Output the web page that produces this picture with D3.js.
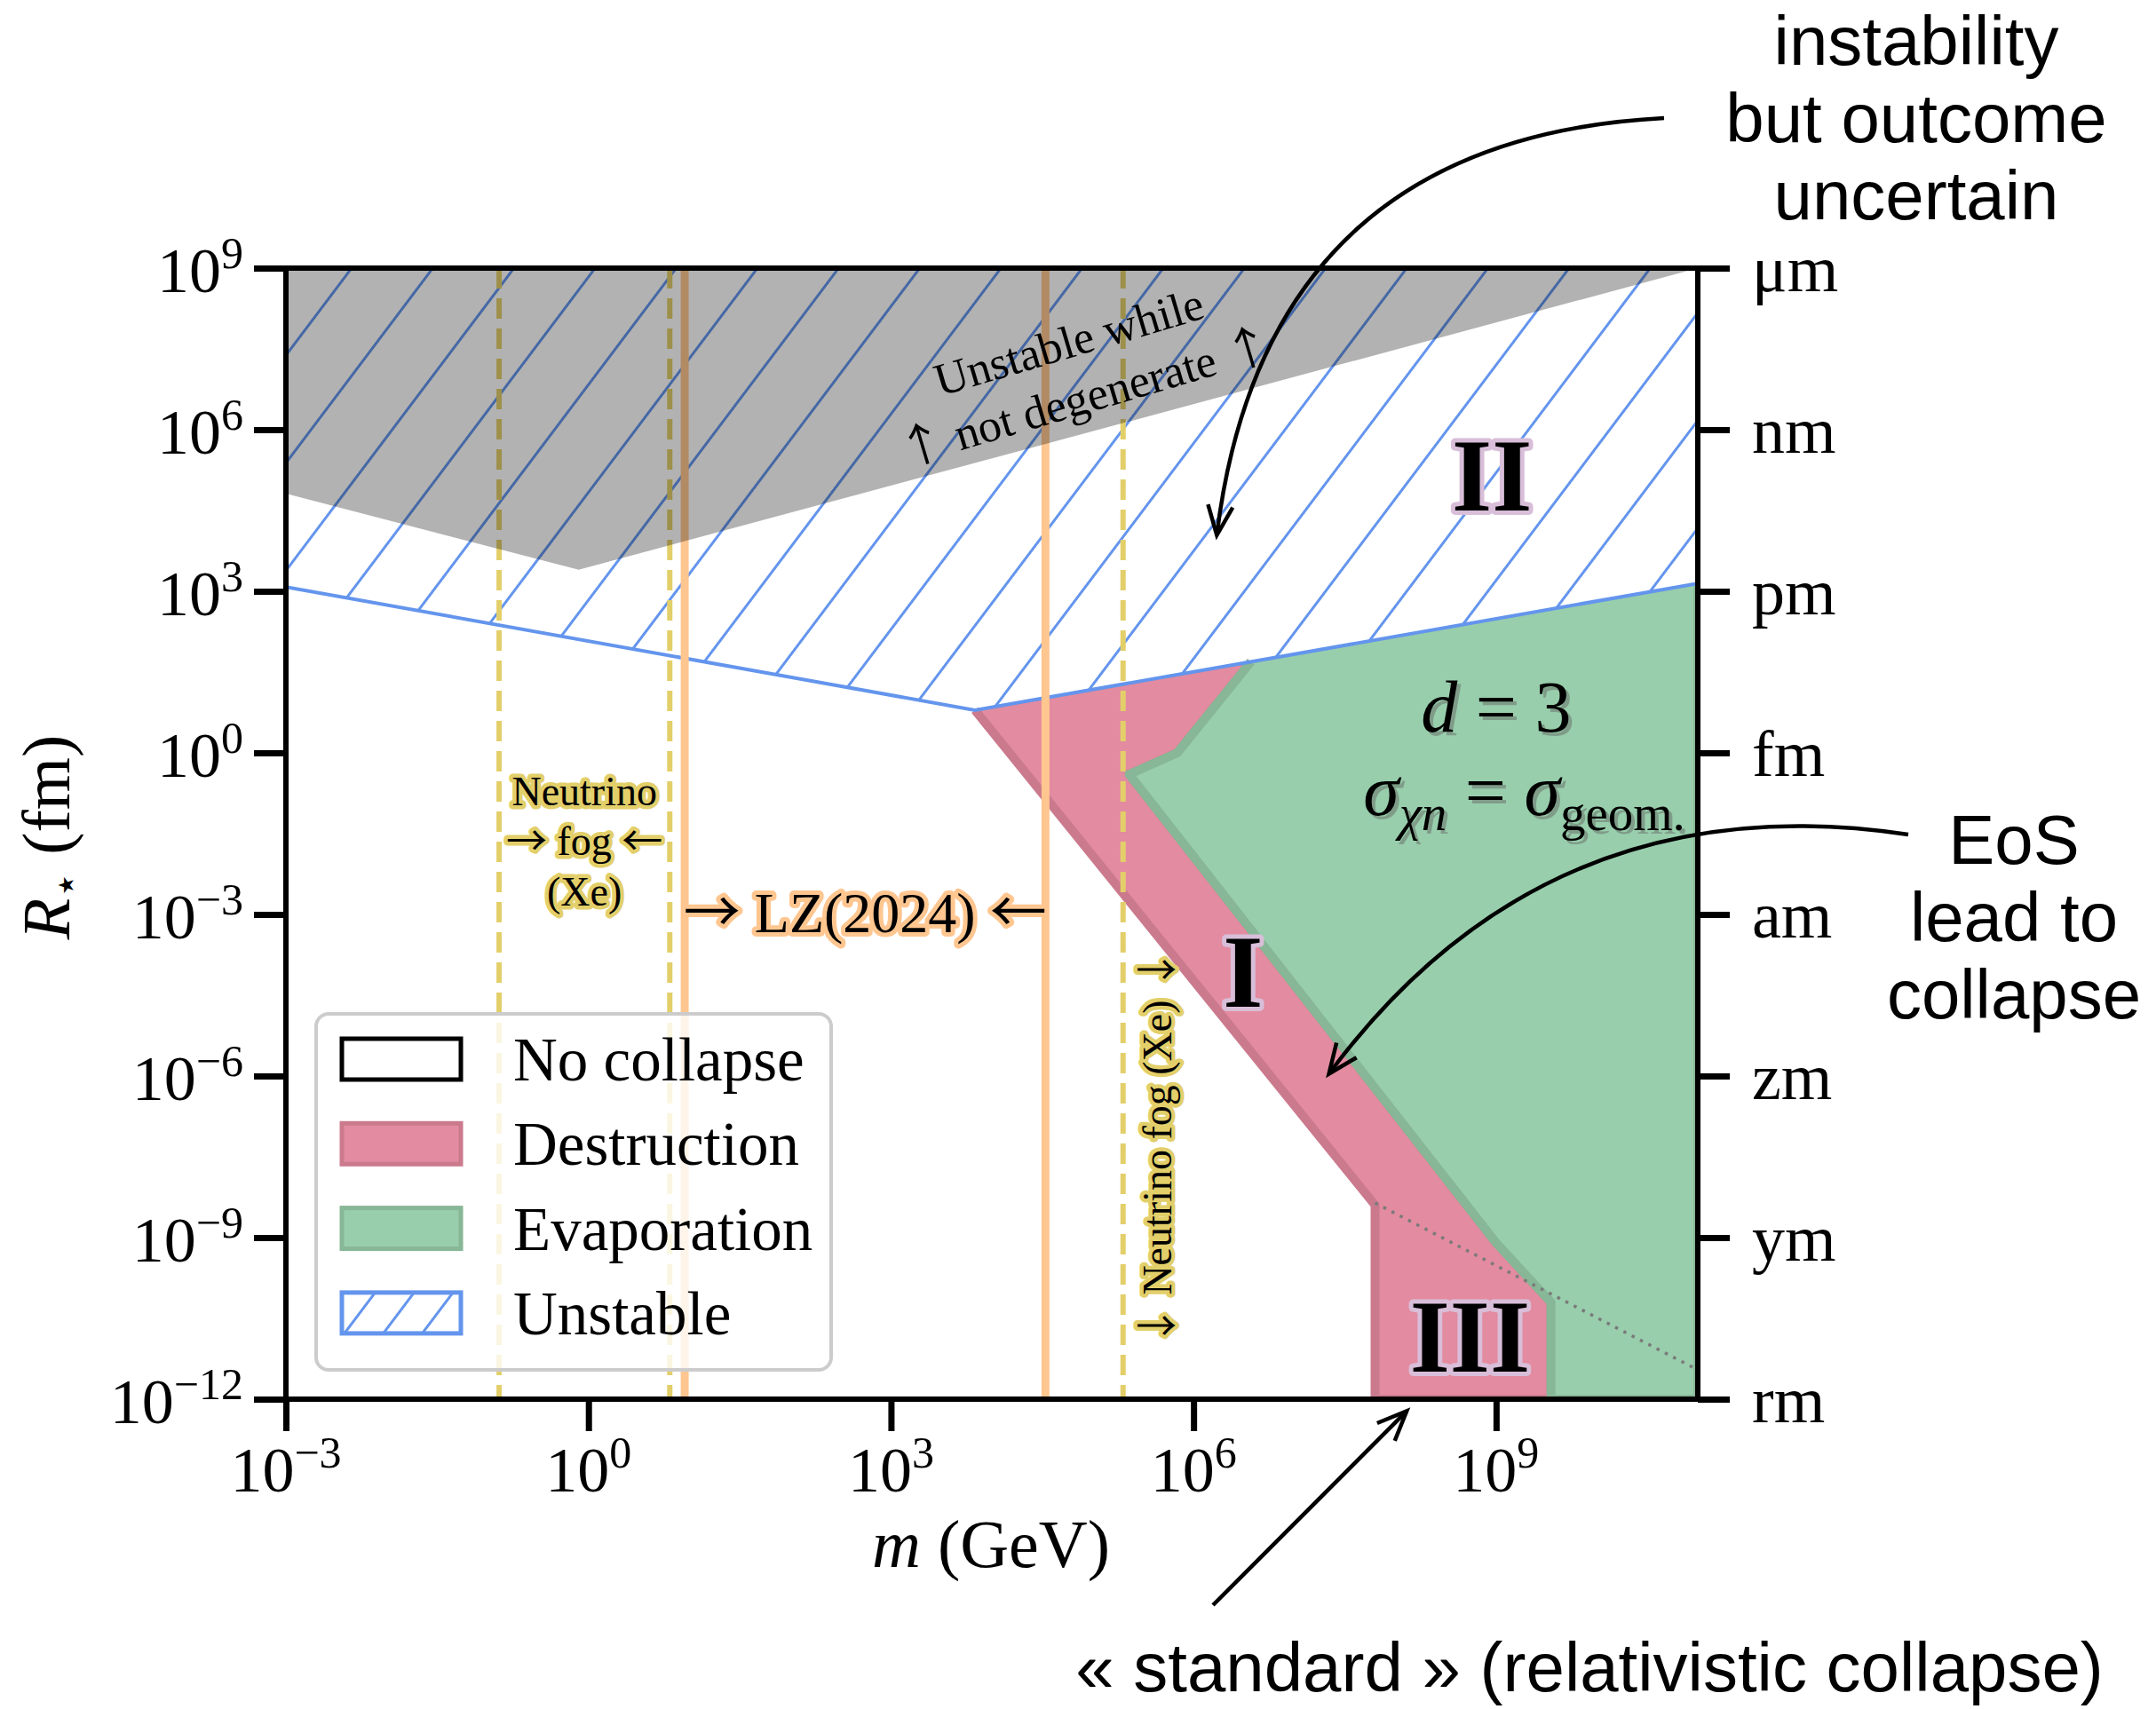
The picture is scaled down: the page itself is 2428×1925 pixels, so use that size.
<!DOCTYPE html>
<html>
<head>
<meta charset="utf-8">
<script src="https://cdn.jsdelivr.net/npm/d3@7"></script>
<style>
  body { margin: 0; background: #fff; }
  text { white-space: pre; }
  text.serif { font-family: "Liberation Serif", "DejaVu Serif", serif; }
  text.sans { font-family: "Liberation Sans", Arial, sans-serif; }
  tspan.arrow { font-family: "Noto Sans CJK JP", "DejaVu Sans", sans-serif; }
</style>
</head>
<body>
<div id="chart"></div>
<script>

// ---- data (m in GeV, R in fm) ----
var xTicks = [1e-3, 1e0, 1e3, 1e6, 1e9];
var xTickExp = ['\u22123', '0', '3', '6', '9'];
var yTicks = [1e9, 1e6, 1e3, 1e0, 1e-3, 1e-6, 1e-9, 1e-12];
var yTickExp = ['9', '6', '3', '0', '\u22123', '\u22126', '\u22129', '\u221212'];
var yUnits = ['\u03bcm', 'nm', 'pm', 'fm', 'am', 'zm', 'ym', 'rm'];

var unstableEdge = [[1e-3, 1.2e3], [6.8e3, 6.2], [1e11, 1.4e3]];
var nonDegenerate = [[1e-3, 1e9], [1e-3, 6.5e4], [0.8, 2.5e3], [1e11, 1e9]];
var destruction = [[6.8e3, 6.2], [3.7e6, 49], [6.9e5, 1.0], [2.3e5, 0.4], [1e9, 8e-10],
  [3.5e9, 6.3e-11], [3.5e9, 1e-12], [6.3e7, 1e-12], [6.3e7, 4e-9]];
var evaporation = [[3.7e6, 49], [6.9e5, 1.0], [2.3e5, 0.4], [1e9, 8e-10], [3.5e9, 6.3e-11],
  [3.5e9, 1e-12], [1e11, 1e-12], [1e11, 1.4e3]];
var relativistic = [[6.3e7, 4.4e-9], [1e11, 3.5e-12]];
var fogXe = [0.13, 6.4];
var fogXeHigh = 2e5;
var lz2024 = [9, 3.4e4];

var legendLabels = ['No collapse', 'Destruction', 'Evaporation', 'Unstable'];

var colors = {
  pink: '#e38ba0', pinkEdge: '#cb7a8e',
  green: '#98ceac', greenEdge: '#87b796',
  blue: '#6495ed', fog: '#e3cf6a', lz: '#ffc690'
};

var W = 2428, H = 1925;
var plot = { left: 322, right: 1912, top: 302, bottom: 1576 };

var svg = d3.select('#chart').append('svg')
    .attr('width', W)
    .attr('height', H);

var x = d3.scaleLog().domain([1e-3, 1e11]).range([plot.left, plot.right]);
var y = d3.scaleLog().domain([1e-12, 1e9]).range([plot.bottom, plot.top]);

var line = d3.line()
    .x(function (d) { return x(d[0]); })
    .y(function (d) { return y(d[1]); });

var defs = svg.append('defs');

defs.append('clipPath').attr('id', 'plot-clip')
  .append('rect')
    .attr('x', plot.left).attr('y', plot.top)
    .attr('width', plot.right - plot.left)
    .attr('height', plot.bottom - plot.top);

// hatch lines "/" at ~53 degrees
function hatchPattern(id, gap, ox, oy) {
  var p = defs.append('pattern')
      .attr('id', id)
      .attr('patternUnits', 'userSpaceOnUse')
      .attr('width', gap).attr('height', gap)
      .attr('patternTransform', 'translate(' + ox + ',' + oy + ') rotate(37) translate(' + (-gap / 2) + ',0)');
  p.append('line')
      .attr('x1', gap / 2).attr('x2', gap / 2)
      .attr('y1', -1).attr('y2', gap + 1)
      .attr('stroke', colors.blue)
      .attr('stroke-width', 3);
}
hatchPattern('hatch', 73, 396, plot.top);
hatchPattern('hatch-small', 35, 400, 1170);

var g = svg.append('g').attr('clip-path', 'url(#plot-clip)');

// unstable (hatched) region above the blue edge
var unstableArea = [[1e-3, 1e9]].concat(unstableEdge).concat([[1e11, 1e9]]);
g.append('path')
    .attr('d', line(unstableArea) + 'Z')
    .attr('fill', 'url(#hatch)');

g.append('path')
    .attr('d', line(destruction) + 'Z')
    .attr('fill', colors.pink);

g.append('path')
    .attr('d', line(destruction.slice(1).concat([destruction[0]])))
    .attr('fill', 'none')
    .attr('stroke', colors.pinkEdge)
    .attr('stroke-width', 10)
    .attr('stroke-linejoin', 'round');

g.append('path')
    .attr('d', line(evaporation) + 'Z')
    .attr('fill', colors.green);

g.append('path')
    .attr('d', line(evaporation))
    .attr('fill', 'none')
    .attr('stroke', colors.greenEdge)
    .attr('stroke-width', 10)
    .attr('stroke-linejoin', 'round');

g.append('path')
    .attr('d', line(relativistic))
    .attr('stroke', '#7a7a7a')
    .attr('stroke-width', 3.5)
    .attr('stroke-dasharray', '3.5, 7')
    .attr('fill', 'none');

g.append('path')
    .attr('d', line(unstableEdge))
    .attr('stroke', colors.blue)
    .attr('stroke-width', 4)
    .attr('fill', 'none');

// neutrino fog and LZ limits
g.selectAll('.fog')
    .data(fogXe.concat([fogXeHigh]))
    .enter()
  .append('line')
    .attr('x1', function (d) { return x(d); })
    .attr('x2', function (d) { return x(d); })
    .attr('y1', plot.top).attr('y2', plot.bottom)
    .attr('stroke', colors.fog)
    .attr('stroke-width', 6)
    .attr('stroke-dasharray', '23, 11');

g.selectAll('.lz')
    .data(lz2024)
    .enter()
  .append('line')
    .attr('x1', function (d) { return x(d); })
    .attr('x2', function (d) { return x(d); })
    .attr('y1', plot.top).attr('y2', plot.bottom)
    .attr('stroke', colors.lz)
    .attr('stroke-width', 9);

// grey "unstable while not degenerate" region
g.append('path')
    .attr('d', line(nonDegenerate) + 'Z')
    .attr('fill', 'rgba(0,0,0,0.3)');

// ---- labels inside the plot ----
function halo(sel, color, w) {
  return sel.attr('stroke', color)
      .attr('stroke-width', w)
      .attr('stroke-linejoin', 'round')
      .attr('paint-order', 'stroke');
}

// text with arrow glyphs taken from a font that draws them long and thin
function rich(sel, str) {
  str.split(/([\u2190-\u2193])/).forEach(function (part) {
    if (!part) return;
    var t = sel.append('tspan').text(part);
    if (/[\u2190-\u2193]/.test(part)) t.attr('class', 'arrow');
  });
}

var nd = svg.append('g')
    .attr('transform', 'translate(' + x(7e4) + ',' + y(1.3e7) + ') rotate(-16.5)');
nd.append('text').attr('class', 'serif')
    .attr('text-anchor', 'middle').attr('y', -15).attr('font-size', 52)
    .text('Unstable while');
nd.append('text').attr('class', 'serif')
    .attr('text-anchor', 'middle').attr('y', 50).attr('font-size', 52)
    .each(function () { rich(d3.select(this), '\u2191 not degenerate \u2191'); });

var fogLines = ['Neutrino', '\u2192 fog \u2190', '(Xe)'];
var fogX = Math.sqrt(fogXe[0] * fogXe[1]);
svg.selectAll('.foglabel')
    .data(fogLines)
    .enter()
  .append('text')
    .attr('class', 'serif')
    .attr('x', x(fogX))
    .attr('y', function (d, i) { return y(0.107) + i * 56.5; })
    .attr('text-anchor', 'middle')
    .attr('font-size', 46)
    .each(function (d) { rich(d3.select(this), d); })
    .call(halo, colors.fog, 9);

svg.append('text')
    .attr('class', 'serif')
    .attr('transform', 'translate(' + (x(fogXeHigh) + 54) + ',' + y(4.7e-8) + ') rotate(-90)')
    .attr('text-anchor', 'middle')
    .attr('font-size', 46)
    .each(function () { rich(d3.select(this), '\u2193 Neutrino fog (Xe) \u2193'); })
    .call(halo, colors.fog, 9);

svg.append('text')
    .attr('class', 'serif')
    .attr('x', x(Math.sqrt(lz2024[0] * lz2024[1])))
    .attr('y', y(4.7e-4))
    .attr('text-anchor', 'middle')
    .attr('font-size', 64)
    .each(function () { rich(d3.select(this), '\u2192 LZ(2024) \u2190'); })
    .call(halo, colors.lz, 10);

var romans = [['II', 9.1e8, 3.2e4], ['I', 3.1e6, 1.9e-5], ['III', 5.5e8, 3.2e-12]];
svg.selectAll('.roman')
    .data(romans)
    .enter()
  .append('text')
    .attr('class', 'serif')
    .attr('x', function (d) { return x(d[1]); })
    .attr('y', function (d) { return y(d[2]); })
    .attr('text-anchor', 'middle')
    .attr('font-size', 116)
    .attr('font-weight', 'bold')
    .text(function (d) { return d[0]; })
    .call(halo, '#d8bed8', 10);

function eqD(gg) {
  var t = gg.append('text').attr('class', 'serif')
      .attr('x', x(1e9)).attr('y', y(2.5))
      .attr('text-anchor', 'middle').attr('font-size', 82);
  t.append('tspan').attr('font-style', 'italic').text('d');
  t.append('tspan').text(' = 3');
  var s = gg.append('text').attr('class', 'serif')
      .attr('x', x(1.9e9)).attr('y', y(0.07))
      .attr('text-anchor', 'middle').attr('font-size', 82);
  s.append('tspan').attr('font-style', 'italic').text('\u03c3');
  s.append('tspan').attr('font-style', 'italic').attr('font-size', 57).attr('dy', 17).text('\u03c7n');
  s.append('tspan').attr('dy', -17).text(' = ');
  s.append('tspan').attr('font-style', 'italic').text('\u03c3');
  s.append('tspan').attr('font-size', 57).attr('dy', 17).text('geom.');
}
eqD(svg.append('g').attr('transform', 'translate(4,4)').attr('fill', '#7f9c89'));
eqD(svg.append('g').attr('fill', '#000'));

// ---- legend ----
var legend = svg.append('g');
legend.append('rect')
    .attr('x', 356).attr('y', 1142)
    .attr('width', 580).attr('height', 401)
    .attr('rx', 14)
    .attr('fill', 'rgba(255,255,255,0.8)')
    .attr('stroke', '#cccccc')
    .attr('stroke-width', 4);

var patchStyle = [
  { fill: '#fff', stroke: '#000' },
  { fill: colors.pink, stroke: colors.pinkEdge },
  { fill: colors.green, stroke: colors.greenEdge },
  { fill: 'url(#hatch-small)', stroke: colors.blue }
];

var item = legend.selectAll('.item')
    .data(legendLabels)
    .enter()
  .append('g')
    .attr('transform', function (d, i) { return 'translate(0,' + (1193 + i * 95.3) + ')'; });

item.append('rect')
    .attr('x', 385).attr('y', -23)
    .attr('width', 134).attr('height', 46)
    .attr('fill', function (d, i) { return patchStyle[i].fill; })
    .attr('stroke', function (d, i) { return patchStyle[i].stroke; })
    .attr('stroke-width', 5);

item.append('text')
    .attr('class', 'serif')
    .attr('x', 578).attr('y', 24)
    .attr('font-size', 69)
    .text(function (d) { return d; });

// ---- frame and axes ----
svg.append('rect')
    .attr('x', plot.left).attr('y', plot.top)
    .attr('width', plot.right - plot.left)
    .attr('height', plot.bottom - plot.top)
    .attr('fill', 'none')
    .attr('stroke', '#000')
    .attr('stroke-width', 6);

function styleAxis(a) {
  a.select('.domain').remove();
  a.selectAll('line').attr('stroke-width', 7);
}

svg.append('g')
    .attr('transform', 'translate(0,' + plot.bottom + ')')
    .call(d3.axisBottom(x).tickValues(xTicks).tickSize(36).tickFormat(''))
    .call(styleAxis);

svg.append('g')
    .attr('transform', 'translate(' + plot.left + ',0)')
    .call(d3.axisLeft(y).tickValues(yTicks).tickSize(36).tickFormat(''))
    .call(styleAxis);

svg.append('g')
    .attr('transform', 'translate(' + plot.right + ',0)')
    .call(d3.axisRight(y).tickValues(yTicks).tickSize(36).tickFormat(''))
    .call(styleAxis);

function powText(sel) {
  sel.append('tspan').text('10');
  sel.append('tspan')
      .attr('font-size', 50)
      .attr('dy', -27)
      .text(function (d) { return d.exp; });
}

svg.selectAll('.xlab')
    .data(xTicks.map(function (v, i) { return { v: v, exp: xTickExp[i] }; }))
    .enter()
  .append('text')
    .attr('class', 'serif')
    .attr('x', function (d) { return x(d.v); })
    .attr('y', 1680)
    .attr('text-anchor', 'middle')
    .attr('font-size', 72)
    .call(powText);

svg.selectAll('.ylab')
    .data(yTicks.map(function (v, i) { return { v: v, exp: yTickExp[i] }; }))
    .enter()
  .append('text')
    .attr('class', 'serif')
    .attr('x', 274)
    .attr('y', function (d) { return y(d.v) + 27; })
    .attr('text-anchor', 'end')
    .attr('font-size', 72)
    .call(powText);

svg.selectAll('.unit')
    .data(yTicks)
    .enter()
  .append('text')
    .attr('class', 'serif')
    .attr('x', 1973)
    .attr('y', function (d) { return y(d) + 26; })
    .attr('font-size', 74)
    .text(function (d, i) { return yUnits[i]; });

var xl = svg.append('text')
    .attr('class', 'serif')
    .attr('x', 1116).attr('y', 1765)
    .attr('text-anchor', 'middle')
    .attr('font-size', 76);
xl.append('tspan').attr('font-style', 'italic').text('m');
xl.append('tspan').text(' (GeV)');

var yl = svg.append('text')
    .attr('class', 'serif')
    .attr('transform', 'translate(78,943) rotate(-90)')
    .attr('text-anchor', 'middle')
    .attr('font-size', 76);
yl.append('tspan').attr('font-style', 'italic').text('R');
yl.append('tspan').attr('font-size', 48).attr('dy', 12).text('\u22c6');
yl.append('tspan').attr('dy', -12).text(' (fm)');

// ---- annotations ----
var notes = [
  { lines: ['instability', 'but outcome', 'uncertain'], cx: 2158, base: 73, from: [1874, 133], tip: [1.7e6, 1.1e4], rad: 0.42 },
  { lines: ['EoS', 'lead to', 'collapse'], cx: 2268, base: 973, from: [2149, 940], tip: [2.2e7, 1.1e-6], rad: 0.3 },
  { lines: ['\u00ab standard \u00bb (relativistic collapse)'], cx: 1790, base: 1905, from: [1366, 1808], tip: [1.3e8, 6e-13], rad: 0 }
];

var ann = svg.append('g');

notes.forEach(function (n) {
  ann.selectAll(null)
      .data(n.lines)
      .enter()
    .append('text')
      .attr('class', 'sans')
      .attr('x', n.cx)
      .attr('y', function (d, i) { return n.base + i * 87; })
      .attr('text-anchor', 'middle')
      .attr('font-size', 78)
      .text(function (d) { return d; });

  var p0 = n.from, p2 = [x(n.tip[0]), y(n.tip[1])];
  var dx = p2[0] - p0[0], dy = p2[1] - p0[1];
  var c = [(p0[0] + p2[0]) / 2 - n.rad * dy, (p0[1] + p2[1]) / 2 + n.rad * dx];
  var path = d3.path();
  path.moveTo(p0[0], p0[1]);
  path.quadraticCurveTo(c[0], c[1], p2[0], p2[1]);
  ann.append('path')
      .attr('d', path.toString())
      .attr('fill', 'none')
      .attr('stroke', '#000')
      .attr('stroke-width', 4.5);

  var ang = Math.atan2(p2[1] - c[1], p2[0] - c[0]);
  var L = 36, a = 0.4;
  var h = d3.path();
  h.moveTo(p2[0] - L * Math.cos(ang - a), p2[1] - L * Math.sin(ang - a));
  h.lineTo(p2[0], p2[1]);
  h.lineTo(p2[0] - L * Math.cos(ang + a), p2[1] - L * Math.sin(ang + a));
  ann.append('path')
      .attr('d', h.toString())
      .attr('fill', 'none')
      .attr('stroke', '#000')
      .attr('stroke-width', 4.5);
});

</script>
</body>
</html>
